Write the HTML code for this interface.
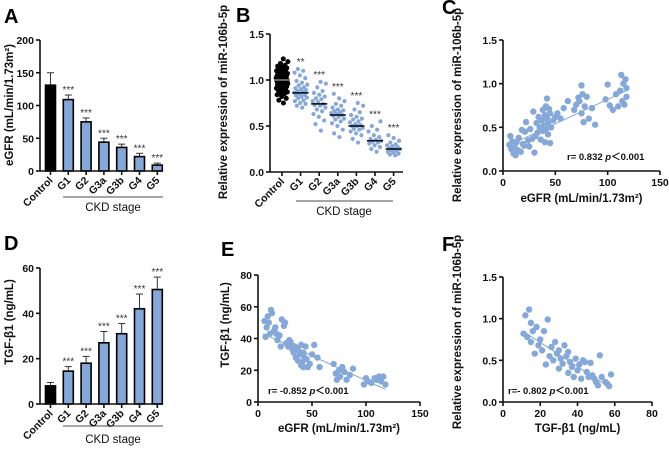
<!DOCTYPE html>
<html><head><meta charset="utf-8">
<style>
html,body{margin:0;padding:0;background:#fff;}
svg{display:block;font-family:"Liberation Sans",Arial,sans-serif;}
.tk{font-size:10.5px;font-weight:bold;fill:#111;}
.tt{font-size:11.5px;font-weight:bold;fill:#111;}
.pl{font-size:20px;font-weight:bold;fill:#000;}
.ax{stroke:#111;stroke-width:1.6;fill:none;}
</style></head>
<body>
<svg id="fig" width="669" height="450" viewBox="0 0 669 450"></svg>
<script>
// ---------- data ----------
const groups = ["Control","G1","G2","G3a","G3b","G4","G5"];
const egfrMeans = [131,109,75,44,36,22,9];
const egfrErr = [19,7,6,6,5,5,3];
const egfrStars = ["","***","***","***","***","***","***"];
const egfrTicks = [0,50,100,150,200];
const tgfMeans = [8,14.5,18,27,31,42,50.5];
const tgfErr = [1.5,2,3,5,4.5,6.5,5.5];
const tgfStars = ["","***","***","***","***","***","***"];
const tgfTicks = [0,20,40,60];
const mirTicks = [0.0,0.5,1.0,1.5];
const mirStars = ["","**","***","***","***","***","***"];
const mirMeans = [1.0,0.86,0.74,0.62,0.50,0.34,0.25];
const mirControl = [0.75,0.78,0.8,0.82,0.84,0.85,0.86,0.87,0.88,0.89,0.9,0.9,0.91,0.92,0.93,0.93,0.94,0.95,0.95,0.96,0.96,0.97,0.97,0.98,0.98,0.99,0.99,1.0,1.0,1.0,1.01,1.01,1.02,1.02,1.03,1.03,1.04,1.04,1.05,1.05,1.06,1.07,1.07,1.08,1.09,1.1,1.1,1.11,1.12,1.13,1.14,1.15,1.16,1.18,1.2,1.23,0.92,0.96,1.0,1.04,1.08,0.88,0.98,1.02,0.94,1.06];
const mirG1 = [0.7,0.72,0.74,0.75,0.77,0.78,0.8,0.81,0.82,0.83,0.84,0.85,0.86,0.87,0.88,0.89,0.9,0.91,0.92,0.94,0.95,0.97,0.99,1.02,1.05,1.08,1.1,1.12];
const mirG2 = [0.45,0.52,0.56,0.6,0.63,0.66,0.68,0.7,0.72,0.73,0.74,0.76,0.77,0.79,0.8,0.82,0.84,0.86,0.88,0.92,0.96,0.98];
const mirG3a = [0.38,0.42,0.46,0.5,0.53,0.55,0.57,0.58,0.6,0.61,0.62,0.63,0.64,0.65,0.66,0.67,0.68,0.7,0.72,0.74,0.77,0.8,0.85];
const mirG3b = [0.32,0.36,0.4,0.42,0.44,0.46,0.47,0.48,0.5,0.5,0.51,0.52,0.54,0.55,0.57,0.58,0.6,0.62,0.65,0.68,0.72,0.75];
const mirG4 = [0.22,0.25,0.27,0.29,0.31,0.32,0.33,0.34,0.35,0.36,0.38,0.4,0.44,0.46,0.5,0.55];
const mirG5 = [0.18,0.19,0.2,0.21,0.22,0.23,0.24,0.25,0.25,0.26,0.27,0.28,0.29,0.3,0.32,0.34,0.37,0.4];
const cX = [6,7,8,9,10,11,12,13,14,15,17,18,19,20,21,22,24,25,26,28,29,30,31,32,33,34,35,36,37,38,38,39,40,40,41,41,42,42,43,43,44,45,45,46,48,50,52,55,58,62,68,70,72,73,75,75,76,77,78,80,82,85,88,98,100,102,105,108,110,112,113,114,115,116,117,118,118];
const cY = [0.3,0.4,0.25,0.34,0.2,0.27,0.18,0.33,0.24,0.38,0.22,0.47,0.31,0.29,0.45,0.56,0.35,0.28,0.48,0.37,0.68,0.21,0.4,0.55,0.44,0.62,0.5,0.36,0.58,0.7,0.46,0.52,0.64,0.33,0.74,0.48,0.6,0.83,0.42,0.55,0.71,0.32,0.66,0.5,0.58,0.62,0.66,0.6,0.72,0.8,0.7,0.76,0.84,0.8,0.98,0.66,0.88,0.56,0.74,0.85,0.6,0.72,0.53,0.82,0.99,0.75,0.7,0.88,0.74,0.92,1.1,0.8,1.0,0.76,1.05,0.95,0.85];
const cFit = [[5,0.29],[118,0.92]];
const eX = [6,7,8,9,10,11,12,13,15,16,17,18,20,21,22,24,25,26,28,29,30,31,32,33,34,35,36,37,38,39,40,40,41,42,42,43,44,45,46,48,50,52,55,57,70,72,73,75,76,78,80,82,85,88,98,100,102,105,108,110,112,114,116,118];
const eY = [51,41,47,54,50,43,58,56,45,47,43,39,42,35,52,48,50,37,35,39,38,36,33,31,35,28,34,26,32,30,36,23,25,31,22,28,35,27,22,24,30,36,28,22,24,18,14,20,16,22,19,14,17,21,11,15,13,12,15,14,16,13,16,11];
const eFit = [[5,43],[118,8]];
const fX = [11,12,13,14,15,15,16,17,18,19,20,21,22,23,24,25,26,27,28,29,30,30,31,32,33,34,35,35,36,37,38,39,40,41,42,43,44,45,46,47,48,49,50,51,52,53,55,56,57,58];
const fY = [0.82,1.04,0.78,1.11,0.72,0.95,0.85,0.58,0.9,0.68,0.75,0.62,0.85,0.45,0.99,0.55,0.66,0.5,0.72,0.58,0.4,0.62,0.52,0.46,0.68,0.55,0.35,0.6,0.48,0.42,0.3,0.52,0.38,0.45,0.28,0.5,0.48,0.36,0.3,0.47,0.32,0.28,0.24,0.2,0.56,0.3,0.24,0.22,0.19,0.33];
const fFit = [[12,0.83],[57,0.18]];

// ---------- helpers ----------
const NS = "http://www.w3.org/2000/svg";
const svg = document.getElementById("fig");
const BLUE = "#86a8d8";
function el(tag, attrs, parent, text){
  const e = document.createElementNS(NS, tag);
  for (const k in attrs) e.setAttribute(k, attrs[k]);
  if (text !== undefined) e.textContent = text;
  (parent || svg).appendChild(e);
  return e;
}
function lin(d0,d1,r0,r1){ return v => r0 + (v-d0)*(r1-r0)/(d1-d0); }
function grp(name){ const g = el("g", {});   return g; }

function panelLabel(txt, x, y){
  const t = el("text", {x:x, y:y, class:"pl"}, svg, txt);
  
  
}

function yAxis(g, x, y, ticks, fmt, top, bot){
  const l = el("line", {x1:x, y1:y(top), x2:x, y2:y(bot), class:"ax"}, g);
  
  
  ticks.forEach(t => {
    el("line", {x1:x-4, y1:y(t), x2:x, y2:y(t), class:"ax"}, g);
    const tx = el("text", {x:x-6, y:y(t)+4, class:"tk", "text-anchor":"end"}, g, fmt(t));
    
    
  });
}
function yTitle(g, cx, cy, txt){
  const t = el("text", {x:0, y:0, class:"tt", "text-anchor":"middle", transform:`translate(${cx},${cy}) rotate(-90)`}, g, txt);
  
  
}
function catAxis(g, x0, x1, yb, xs, lineY, lineX0, lineX1, textY){
  const l = el("line", {x1:x0, y1:yb, x2:x1, y2:yb, class:"ax"}, g);
  
  
  groups.forEach((c,i) => {
    el("line", {x1:xs(i), y1:yb, x2:xs(i), y2:yb+4, class:"ax"}, g);
    const t = el("text", {x:0, y:0, class:"tk", "text-anchor":"end", transform:`translate(${xs(i)+3},${yb+10}) rotate(-45)`}, g, c);
    
    
  });
  const cl = el("line", {x1:lineX0, y1:lineY, x2:lineX1, y2:lineY, stroke:"#111", "stroke-width":0.8}, g);
  
  
  const ct = el("text", {x:(lineX0+lineX1)/2, y:textY, "text-anchor":"middle", "font-size":"11.5", fill:"#111"}, g, "CKD stage");
  
  
}
function barChart(name, yDom, yb, yt, means, errs, stars, ticks){
  const g = grp(name);
  const y = lin(yDom[0], yDom[1], yb, yt);
  const xs = i => 50.5 + i*17.8;
  means.forEach((m,i) => {
    const e = el("line", {x1:xs(i), y1:y(m), x2:xs(i), y2:y(m+errs[i]), stroke:"#333", "stroke-width":1}, g);
    
    
    el("line", {x1:xs(i)-3.5, y1:y(m+errs[i]), x2:xs(i)+3.5, y2:y(m+errs[i]), stroke:"#333", "stroke-width":1}, g);
    const b = el("rect", {x:xs(i)-5, y:y(m), width:10, height:y(0)-y(m), fill:i===0?"#000":BLUE, stroke:"#000", "stroke-width":1.6}, g);
    
    
    if (stars[i]) {
      const s = el("text", {x:xs(i), y:y(m+errs[i])-2, "text-anchor":"middle", "font-size":"10", fill:"#333"}, g, stars[i]);
      
      
    }
  });
  yAxis(g, 40, y, ticks, t => String(t), yDom[1], 0);
  return {g, xs, y};
}

// ---------- Panel A ----------
panelLabel("A", 4, 23);
{
  const r = barChart("panel-a-egfr-bars", [0,200], 171, 40, egfrMeans, egfrErr, egfrStars, egfrTicks);
  catAxis(r.g, 40, 163, 171, r.xs, 197, 63, 163, 211);
  yTitle(r.g, 13, 105, "eGFR  (mL/min/1.73m²)");
}
// ---------- Panel D ----------
panelLabel("D", 4, 250);
{
  const r = barChart("panel-d-tgf-bars", [0,60], 404, 268, tgfMeans, tgfErr, tgfStars, tgfTicks);
  catAxis(r.g, 40, 163, 404, r.xs, 426, 63, 163, 443);
  yTitle(r.g, 13, 322, "TGF-β1 (ng/mL)");
}
// ---------- Panel B ----------
panelLabel("B", 236, 22);
{
  const g = grp("panel-b-mir-scatter");
  const y = lin(0, 1.5, 172, 34);
  const xs = i => 282 + i*18.6;
  const sets = [mirControl, mirG1, mirG2, mirG3a, mirG3b, mirG4, mirG5];
  sets.forEach((arr,gi) => {
    const w = gi===0 ? 6 : 7;
    arr.forEach((v,k) => {
      const fr = ((k+1)*0.6180339) % 1;
      const off = (fr*2-1)*w;
      const c = el("circle", {cx:xs(gi)+off, cy:y(v), r:gi===0?2.5:2.1, fill:gi===0?"#000":BLUE}, g);
      
      
    });
    const m = el("line", {x1:xs(gi)-8, y1:y(mirMeans[gi]), x2:xs(gi)+8, y2:y(mirMeans[gi]), stroke:gi===0?"#888":"#000", "stroke-width":1.5}, g);
    
    
    if (mirStars[gi]) {
      const top = Math.max(...arr);
      const s = el("text", {x:xs(gi), y:y(top)-4, "text-anchor":"middle", "font-size":"10", fill:"#333"}, g, mirStars[gi]);
      
      
    }
  });
  yAxis(g, 270, y, mirTicks, t => t.toFixed(1), 1.5, 0);
  const l = el("line", {x1:270, y1:172, x2:403, y2:172, class:"ax"}, g);
  
  
  groups.forEach((c,i) => {
    el("line", {x1:xs(i), y1:172, x2:xs(i), y2:176, class:"ax"}, g);
    const t = el("text", {x:0, y:0, class:"tk", "text-anchor":"end", transform:`translate(${xs(i)+3},${182}) rotate(-45)`}, g, c);
    
    
  });
  const cl = el("line", {x1:296, y1:201, x2:393, y2:201, stroke:"#111", "stroke-width":0.8}, g);
  
  
  const ct = el("text", {x:344, y:215, "text-anchor":"middle", "font-size":"11.5", fill:"#111"}, g, "CKD stage");
  
  
  yTitle(g, 227, 102, "Relative expression of miR-106b-5p");
}

function scatter(name, xDom, yDom, x0, x1, yb, yt, xT, yT, xFmt, yFmt, xs_, ys_, fit, xTitle, xTitleY, yTitleTxt, yTitleX, yTitleY, stat, statX, statY){
  const g = grp(name);
  const x = lin(xDom[0], xDom[1], x0, x1);
  const y = lin(yDom[0], yDom[1], yb, yt);
  xs_.forEach((v,i) => {
    const c = el("circle", {cx:x(v), cy:y(ys_[i]), r:3.2, fill:BLUE}, g);
    
    
  });
  const f = el("line", {x1:x(fit[0][0]), y1:y(fit[0][1]), x2:x(fit[1][0]), y2:y(fit[1][1]), stroke:BLUE, "stroke-width":1}, g);
  
  
  yAxis(g, x0, y, yT, yFmt, yDom[1], yDom[0]);
  const xl = el("line", {x1:x0, y1:yb, x2:x1, y2:yb, class:"ax"}, g);
  
  
  xT.forEach(t => {
    el("line", {x1:x(t), y1:yb, x2:x(t), y2:yb+4, class:"ax"}, g);
    const tx = el("text", {x:x(t), y:yb+15, class:"tk", "text-anchor":"middle"}, g, xFmt(t));
    
    
  });
  const xt = el("text", {x:(x0+x1)/2, y:xTitleY, class:"tt", "text-anchor":"middle"}, g, xTitle);
  
  
  yTitle(g, yTitleX, yTitleY, yTitleTxt);
  const st = el("text", {x:statX, y:statY, "font-size":"9.5", "font-weight":"bold", fill:"#111"}, g);
  
  
  el("tspan", {}, st, stat[0]);
  el("tspan", {"font-style":"italic"}, st, " p");
  el("tspan", {}, st, "＜0.001");
}
const sxT = [0,50,100,150];
panelLabel("C", 442, 14);
scatter("panel-c-egfr-vs-mir", [0,150], [0,1.5], 503, 660, 171, 40, sxT, mirTicks, t=>String(t), t=>t.toFixed(1), cX, cY, cFit, "eGFR  (mL/min/1.73m²)", 202, "Relative expression of miR-106b-5p", 461, 105, ["r= 0.832"], 567, 160);
panelLabel("E", 221, 256);
scatter("panel-e-egfr-vs-tgf", [0,150], [0,80], 258, 420, 402, 275, sxT, [0,20,40,60,80], t=>String(t), t=>String(t), eX, eY, eFit, "eGFR  (mL/min/1.73m²)", 432, "TGF-β1 (ng/mL)", 229, 325, ["r= -0.852"], 268, 394);
panelLabel("F", 442, 251);
scatter("panel-f-tgf-vs-mir", [0,80], [0,1.5], 503, 652, 402, 277, [0,20,40,60,80], mirTicks, t=>String(t), t=>t.toFixed(1), fX, fY, fFit, "TGF-β1 (ng/mL)", 432, "Relative expression of miR-106b-5p", 461, 332, ["r=- 0.802"], 508, 394);
</script>
</body></html>
